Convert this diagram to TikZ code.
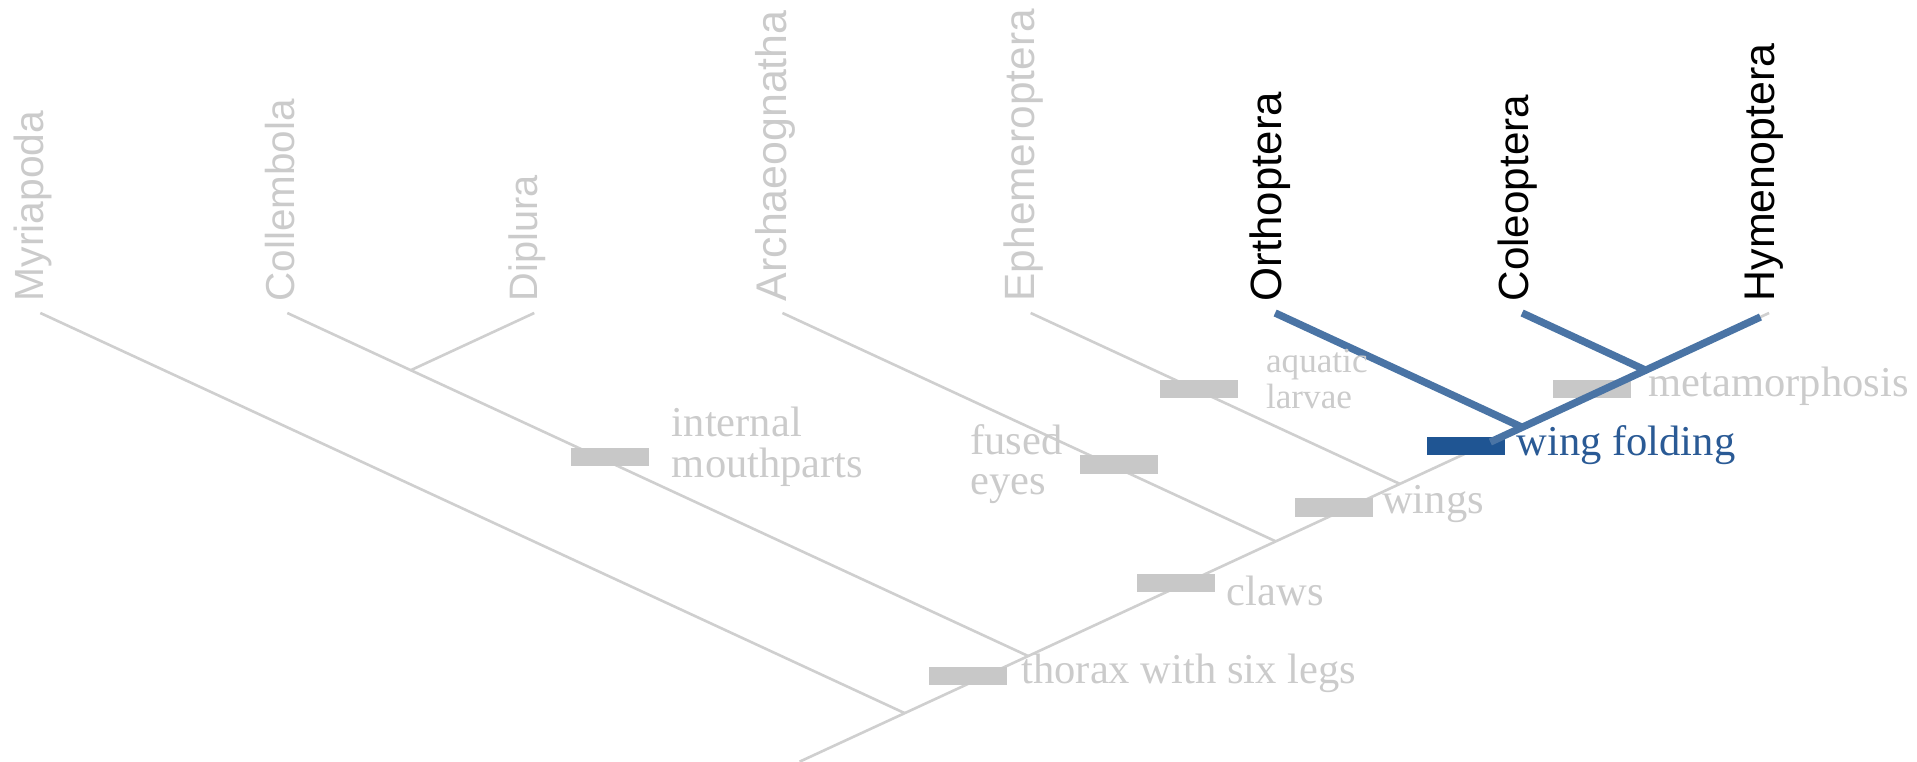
\documentclass[tikz,border=0pt]{standalone}
\usepackage{fontspec}
\usetikzlibrary{calc}
\setmainfont{Liberation Serif}
\newfontfamily\taxfont{Liberation Sans}
\definecolor{lgray}{HTML}{CFCFCF}
\definecolor{bargray}{HTML}{C8C8C8}
\definecolor{tgray}{HTML}{CBCBCB}
\definecolor{hblue}{HTML}{4A74A5}
\definecolor{dblue}{HTML}{1F5593}
\definecolor{bluetext}{HTML}{2A5A95}
\begin{document}
\begin{tikzpicture}[x=0.012226cm, y=-0.012226cm,
  treeline/.style={draw=lgray, line width=0.75pt},
  hiline/.style={draw=hblue, line width=2.1pt},
  bar/.style={rectangle, fill=bargray, minimum width=0.782cm, minimum height=0.183cm, inner sep=0pt},
  hibar/.style={bar, fill=dblue},
  taxon/.style={rotate=90, anchor=west, inner sep=0pt, text=tgray, font=\taxfont\fontsize{#1}{14}\selectfont},
  taxon/.default=12.2,
  hitaxon/.style={taxon=#1, text=black},
  hitaxon/.default=12.2,
  trait/.style={anchor=west, inner sep=0pt, text=tgray, align=left, font=\fontsize{12.1}{11.5}\selectfont},
  smalltrait/.style={trait, font=\fontsize{10}{10.4}\selectfont}
]
\useasboundingbox (0,0) rectangle (1568,623);

% leaves
\coordinate (M)  at (33,256);
\coordinate (Co) at (235,256);
\coordinate (Di) at (437,256);
\coordinate (Ar) at (640,256);
\coordinate (Ep) at (843,256);
\coordinate (Or) at (1043,256);
\coordinate (Cl) at (1245,256);
\coordinate (Hy) at (1447,256);
% junctions
\coordinate (root) at (654,623);
\coordinate (jM)  at (740,583.3);
\coordinate (jCo) at (841,536.6);
\coordinate (jDi) at (336,302.8);
\coordinate (jAr) at (1043.5,442.8);
\coordinate (jEp) at (1145,395.8);
\coordinate (jOr) at (1245,349.5);
\coordinate (jCl) at (1346,302.8);

% gray tree
\draw[treeline] (root) -- (jM) -- (jCo) -- (jAr) -- (jEp) -- (jOr) -- (jCl) -- (Hy);
\draw[treeline] (M) -- (jM);
\draw[treeline] (Co) -- (jDi) -- (jCo);
\draw[treeline] (Di) -- (jDi);
\draw[treeline] (Ar) -- (jAr);
\draw[treeline] (Ep) -- (jEp);
\draw[treeline] (Or) -- (jOr);
\draw[treeline] (Cl) -- (jCl);

% character bars
\node[bar] (bIM) at (499,374) {};
\node[bar] (bFE) at (915,380) {};
\node[bar] (bAL) at (981,318) {};
\node[bar] (bMe) at (1302,318) {};
\node[bar] (bWi) at (1091,415) {};
\node[bar] (bCw) at (962,477) {};
\node[bar] (bTh) at (792,553) {};
\node[hibar] (bWF) at (1199,365) {};

% highlighted clade
\coordinate (hStart) at ($(jEp)!0.74!(jOr)$);
\coordinate (hEnd) at ($(jCl)!0.93!(Hy)$);
\draw[hiline] (hStart) -- (jOr) -- (jCl) -- (hEnd);
\draw[hiline] (Or) -- (jOr);
\draw[hiline] (Cl) -- (jCl);

% taxon labels
\node[taxon=11.6]   (tM)  at (27,247)   {Myriapoda};
\node[taxon=11.5]   (tCo) at (229,247)  {Collembola};
\node[taxon=11.3]   (tDi) at (431,247)  {Diplura};
\node[taxon=12.2]   (tAr) at (634,247)  {Archaeognatha};
\node[taxon=12.05]  (tEp) at (837,247)  {Ephemeroptera};
\node[hitaxon=12.45] (tOr) at (1039,247) {Orthoptera};
\node[hitaxon=12.0] (tCl) at (1241,247) {Coleoptera};
\node[hitaxon=12.2] (tHy) at (1443,247) {Hymenoptera};

% trait labels
\node[trait] (lIM) at (549,365.5) {internal\\mouthparts};
\node[trait] (lFE) at (793,379.5) {fused\\eyes};
\node[smalltrait] (lAL) at (1035,310) {aquatic\\larvae};
\node[trait] (lMe) at (1348,316) {metamorphosis};
\node[trait, text=bluetext] (lWF) at (1240,364) {wing folding};
\node[trait] (lWi) at (1130,412) {wings};
\node[trait] (lCw) at (1003,483) {claws};
\node[trait] (lTh) at (835,551) {thorax with six legs};
\end{tikzpicture}
\end{document}
